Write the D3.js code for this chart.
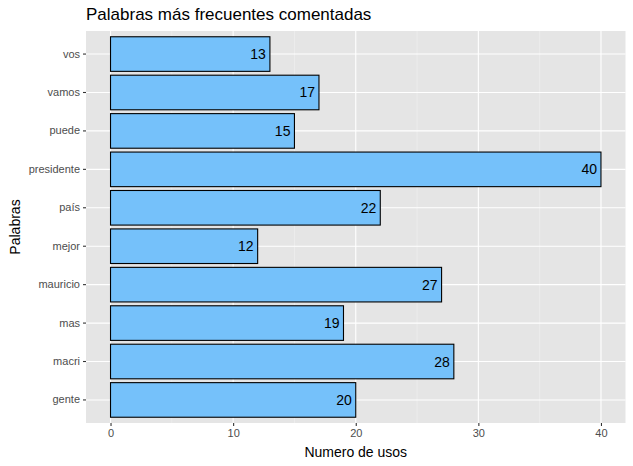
<!DOCTYPE html>
<html><head><meta charset="utf-8">
<script src="https://cdn.jsdelivr.net/npm/d3@7"></script>
<style>body{margin:0;background:#fff;} text{font-family:"Liberation Sans",Arial,sans-serif;}</style>
</head><body>
<svg id="c" width="633" height="466"></svg>
<script>
const categories = ["gente","macri","mas","mauricio","mejor","país","presidente","puede","vamos","vos"];
const values = [20,28,19,27,12,22,40,15,17,13];
const xTicks = [0,10,20,30,40];
const minorTicks = [5,15,25,35];
const title = "Palabras más frecuentes comentadas";
const xTitle = "Numero de usos";
const yTitle = "Palabras";

const svg = d3.select("#c");
const L = 86, R = 625.5, T = 31, B = 423;
const x = d3.scaleLinear().domain([-2, 42]).range([L, R]);
const y = d3.scaleBand().domain(categories.slice().reverse()).range([T, B]).paddingInner(0.1).paddingOuter(0.15);
svg.append("rect").attr("x", L).attr("y", T).attr("width", R - L).attr("height", B - T).attr("fill", "#E5E5E5");
const g = svg.append("g");
minorTicks.forEach(v => g.append("line").attr("x1", x(v)).attr("x2", x(v)).attr("y1", T).attr("y2", B).attr("stroke", "#F2F2F2").attr("stroke-width", 0.55));
xTicks.forEach(v => g.append("line").attr("x1", x(v)).attr("x2", x(v)).attr("y1", T).attr("y2", B).attr("stroke", "#fff").attr("stroke-width", 1.1));
categories.forEach(c => {
  const cy = y(c) + y.bandwidth() / 2;
  g.append("line").attr("x1", L).attr("x2", R).attr("y1", cy).attr("y2", cy).attr("stroke", "#fff").attr("stroke-width", 1.1);
});
const data = categories.map((c, i) => ({c, v: values[i]}));
svg.selectAll("rect.bar").data(data).join("rect").attr("class", "bar")
  .attr("x", x(0)).attr("y", d => y(d.c)).attr("width", d => x(d.v) - x(0)).attr("height", y.bandwidth())
  .attr("fill", "#75C1FA").attr("stroke", "#000").attr("stroke-width", 1.1);
svg.selectAll("text.lab").data(data).join("text").attr("class", "lab")
  .attr("x", d => x(d.v) - 4).attr("y", d => y(d.c) + y.bandwidth() / 2 + 5)
  .attr("text-anchor", "end").attr("font-size", 14).attr("fill", "#000").text(d => d.v);

const xa = svg.append("g").attr("transform", `translate(0,${B})`)
  .call(d3.axisBottom(x).tickValues(xTicks).tickSize(3).tickPadding(3));
xa.select(".domain").remove();
xa.selectAll("line").attr("stroke", "#333").attr("stroke-width", 1.1);
xa.selectAll("text").attr("fill", "#4D4D4D").attr("font-size", 11).style("font-family", "Liberation Sans, Arial, sans-serif");
const ya = svg.append("g").attr("transform", `translate(${L},0)`)
  .call(d3.axisLeft(y).tickSize(3).tickPadding(3));
ya.select(".domain").remove();
ya.selectAll("line").attr("stroke", "#333").attr("stroke-width", 1.1);
ya.selectAll("text").attr("fill", "#4D4D4D").attr("font-size", 11).style("font-family", "Liberation Sans, Arial, sans-serif");

svg.append("text").attr("x", L).attr("y", 20).attr("font-size", 17).attr("fill", "#000").text(title);
svg.append("text").attr("x", (L + R) / 2).attr("y", 457).attr("text-anchor", "middle").attr("font-size", 14).attr("fill", "#000").text(xTitle);
svg.append("text").attr("transform", `translate(20,${(T + B) / 2}) rotate(-90)`).attr("text-anchor", "middle").attr("font-size", 14).attr("fill", "#000").text(yTitle);
</script>
</body></html>
